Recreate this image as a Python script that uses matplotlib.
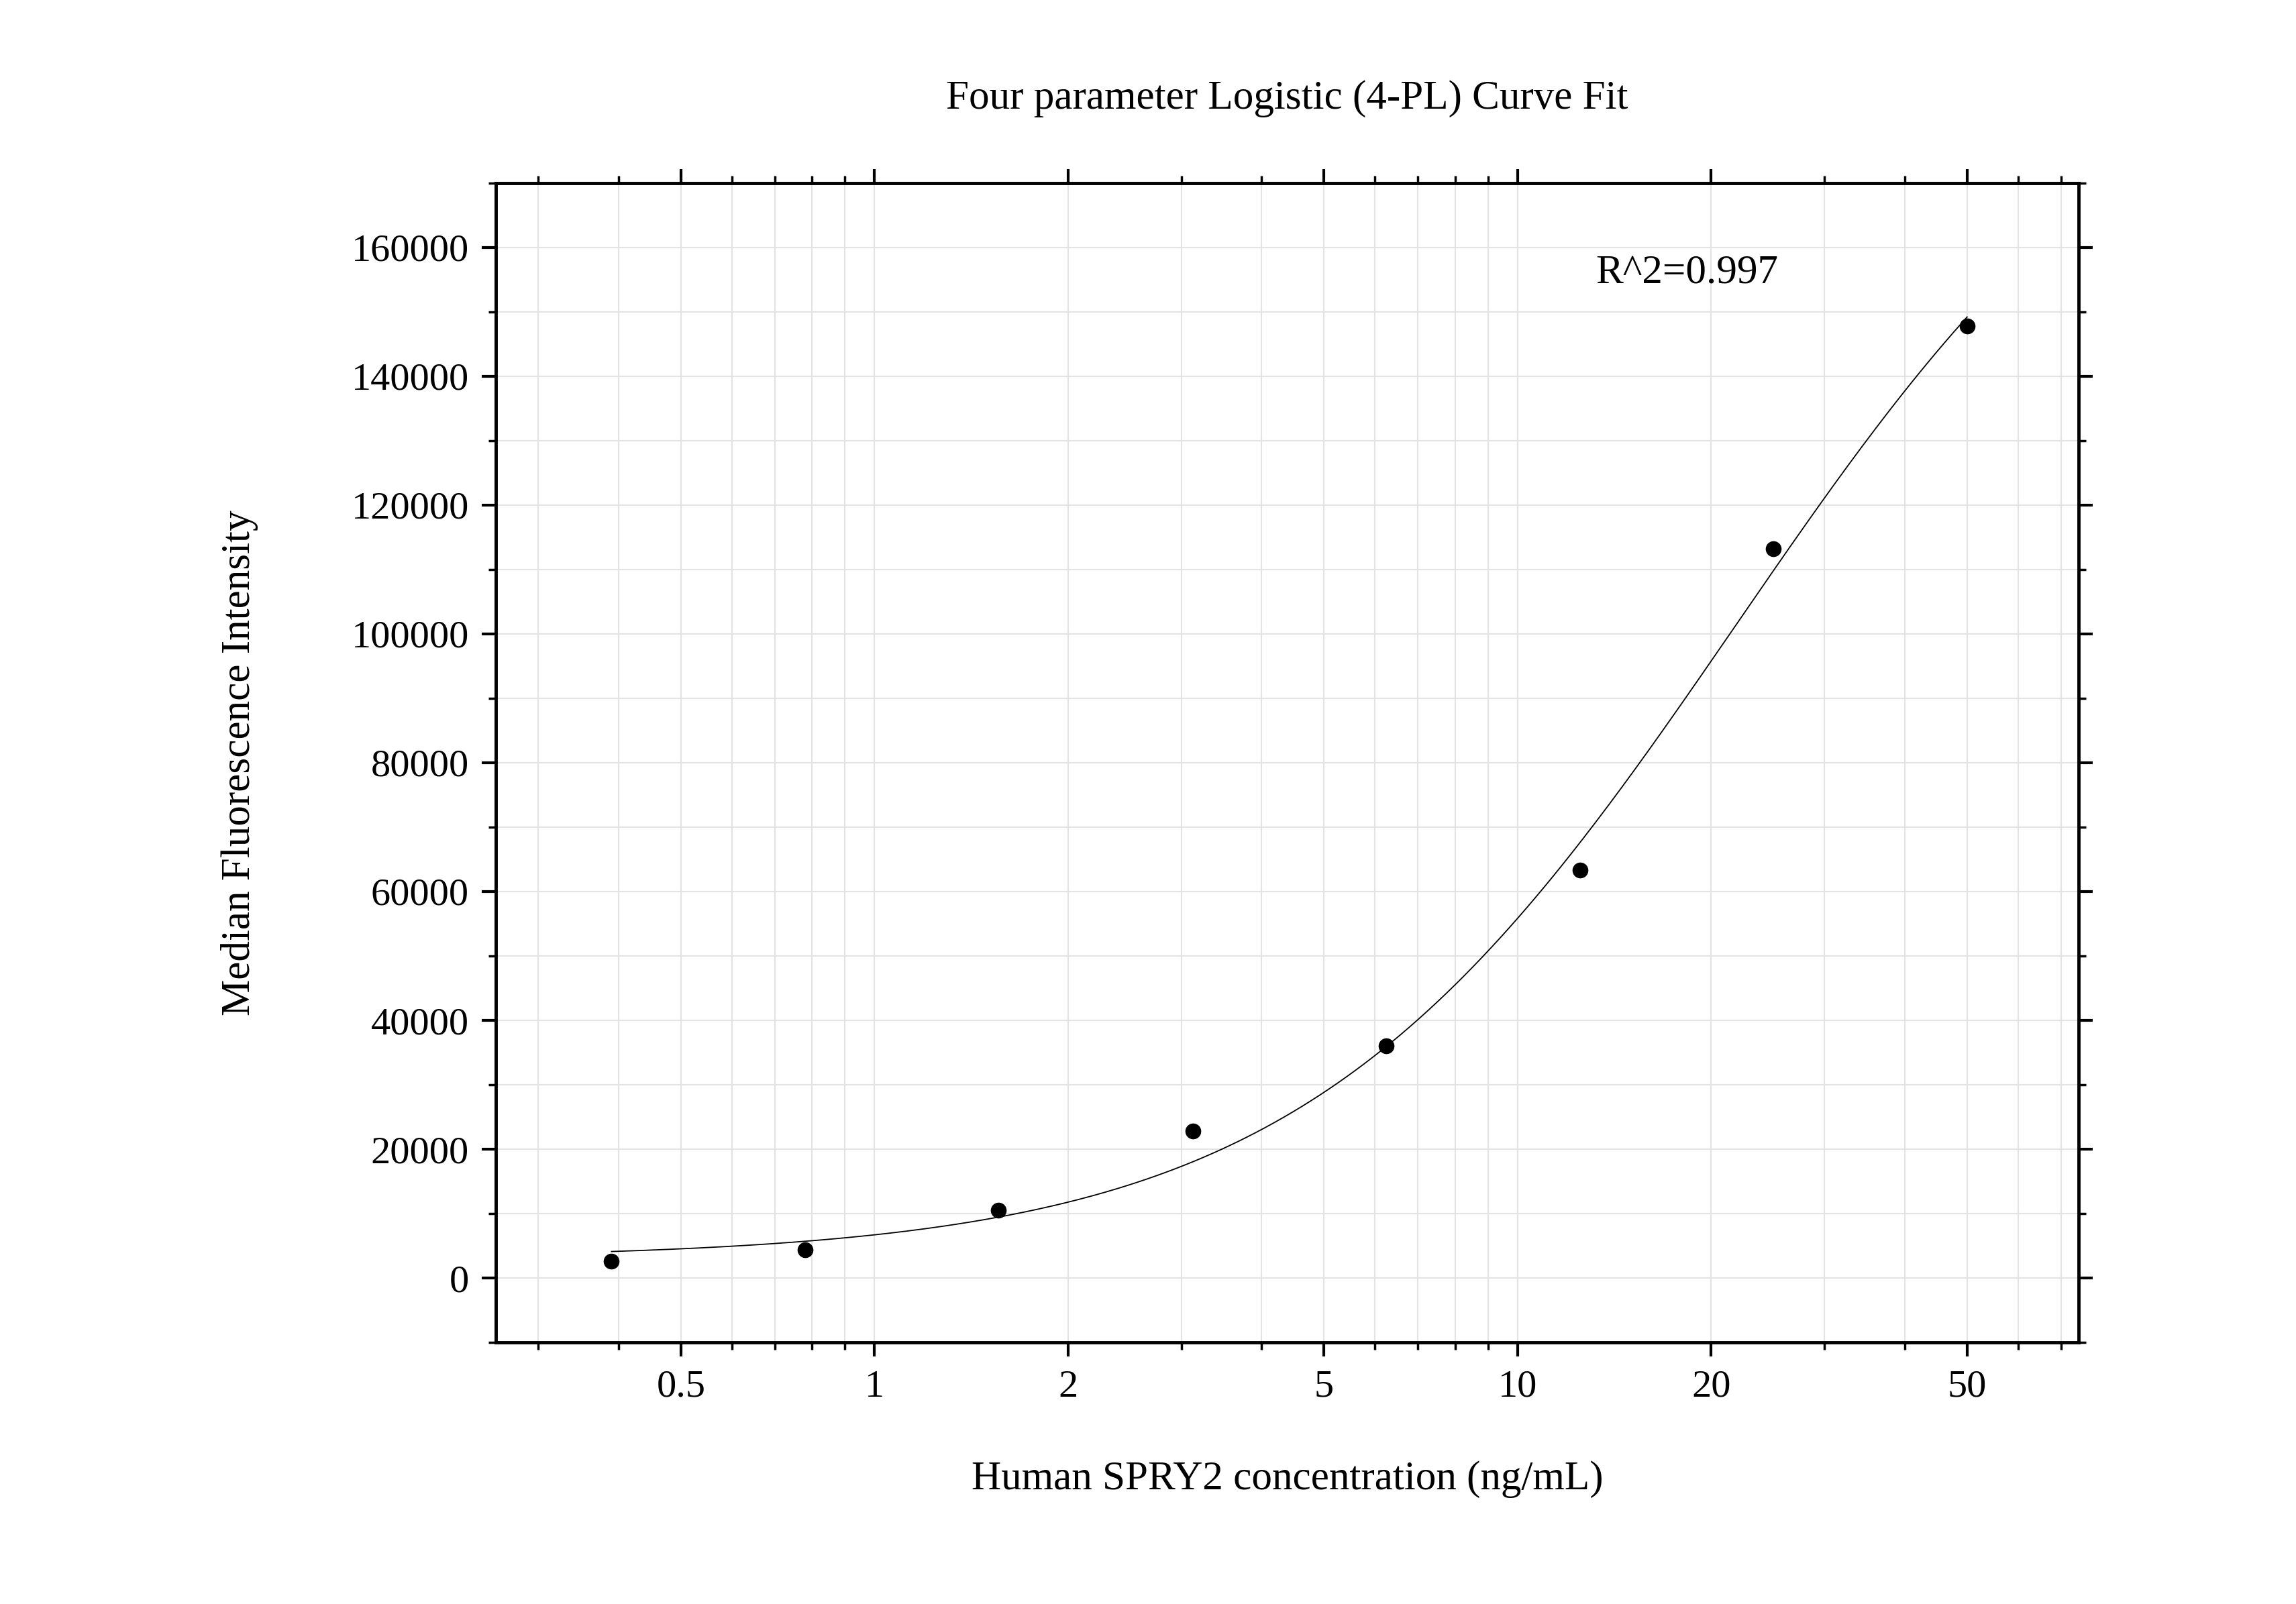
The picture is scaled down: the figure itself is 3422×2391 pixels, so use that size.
import numpy as np
import matplotlib
matplotlib.use("Agg")
import matplotlib.pyplot as plt
from matplotlib.ticker import FixedLocator, NullFormatter, MultipleLocator

# standard points
conc = [0.39, 0.78, 1.56, 3.125, 6.25, 12.5, 25, 50]
mfi = [2600, 4400, 10500, 22800, 36000, 63300, 113200, 147800]

# 4-PL parameters estimated from the drawn fit curve
fit_bottom = 3000
fit_top = 200000
fit_ec50 = 21.9
fit_slope = 1.28

x_ticks = [0.5, 1, 2, 5, 10, 20, 50]
x_tick_labels = ["0.5", "1", "2", "5", "10", "20", "50"]
y_ticks = [0, 20000, 40000, 60000, 80000, 100000, 120000, 140000, 160000]

plt.rcParams["font.family"] = "Liberation Serif"

fig = plt.figure(figsize=(34.23, 23.91), dpi=100)
ax = fig.add_axes([0.216, 0.163, 0.689, 0.723])

xs = np.logspace(np.log10(conc[0]), np.log10(conc[-1]), 300)
ys = fit_bottom + (fit_top - fit_bottom) / (1 + (fit_ec50 / xs) ** fit_slope)
ax.plot(xs, ys, color="black", lw=1.3)
ax.plot(conc, mfi, "o", color="black", ms=16)

ax.set_xscale("log")
ax.set_xlim(0.258, 74.5)
ax.set_ylim(-10000, 170000)
ax.xaxis.set_major_locator(FixedLocator(x_ticks))
ax.set_xticklabels(x_tick_labels)
minor = [m * 10.0 ** e for e in (-1, 0, 1) for m in range(1, 10)]
ax.xaxis.set_minor_locator(FixedLocator([v for v in minor if v not in x_ticks]))
ax.xaxis.set_minor_formatter(NullFormatter())
ax.yaxis.set_major_locator(FixedLocator(y_ticks))
ax.yaxis.set_minor_locator(MultipleLocator(10000))

ax.grid(True, which="both", color="#e3e3e3", lw=1.5)
ax.set_axisbelow(True)
for s in ax.spines.values():
    s.set_linewidth(3.5)
ax.tick_params(which="major", direction="out", length=15, width=3, labelsize=42, pad=14)
ax.tick_params(which="minor", direction="out", length=8, width=2.5)
ax.tick_params(which="both", top=True, right=True)

ax.set_xlabel("Human SPRY2 concentration (ng/mL)", fontsize=44, labelpad=60)
ax.set_ylabel("Median Fluorescence Intensity", fontsize=44, labelpad=100)
ax.set_title("Four parameter Logistic (4-PL) Curve Fit", fontsize=44, pad=80)
ax.text(0.695, 0.913, "R^2=0.997", transform=ax.transAxes, fontsize=44)

fig.savefig("out.png", dpi=100, facecolor="white")
